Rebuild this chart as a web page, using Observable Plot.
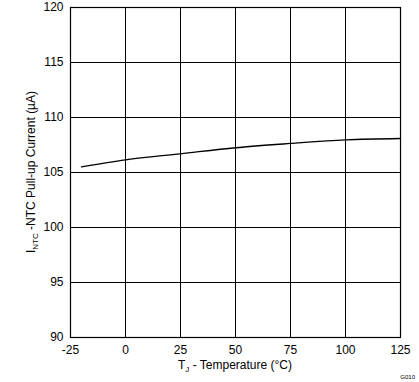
<!DOCTYPE html>
<html><head><meta charset="utf-8">
<script src="https://cdn.jsdelivr.net/npm/d3@7"></script>
<script src="https://cdn.jsdelivr.net/npm/@observablehq/plot@0.6"></script>
<style>body{margin:0;background:#fff}svg{font-family:"Liberation Sans",Arial,sans-serif}</style>
</head><body><div id="chart"></div>
<script>
const temps = [-20, 0, 25, 50, 75, 100, 125];
const currents = [105.52, 106.15, 106.7, 107.25, 107.64, 107.97, 108.09];
const xTicks = [-25, 0, 25, 50, 75, 100, 125];
const yTicks = [90, 95, 100, 105, 110, 115, 120];
const data = temps.map((t, i) => ({t, c: currents[i]}));

const plot = Plot.plot({
  width: 419, height: 382,
  marginLeft: 70, marginRight: 19, marginTop: 7, marginBottom: 45,
  style: {fontFamily: "Liberation Sans, Arial, sans-serif", fontSize: "12px", color: "#000", background: "#fff"},
  x: {domain: [-25, 125], ticks: xTicks, label: null},
  y: {domain: [90, 120], ticks: yTicks, label: null},
  marks: [
    Plot.ruleX(xTicks, {stroke: "#000", strokeWidth: 1}),
    Plot.ruleY(yTicks, {stroke: "#000", strokeWidth: 1}),
    Plot.frame({stroke: "#000", strokeWidth: 1.2}),
    Plot.axisX({ticks: xTicks, tickSize: 0, tickPadding: 8, fontSize: 12, label: null, tickFormat: d => String(d)}),
    Plot.axisY({ticks: yTicks, tickSize: 0, tickPadding: 7, fontSize: 12, label: null, tickFormat: d => String(d)}),
    Plot.line(data, {x: "t", y: "c", stroke: "#000", strokeWidth: 1.3, curve: "monotone-x"})
  ]
});
document.getElementById("chart").appendChild(plot);
const svg = d3.select(plot);
// x axis label with subscript
const xl = svg.append("text").attr("x", 235).attr("y", 369).attr("text-anchor", "middle")
  .attr("font-size", 12).attr("fill", "#000");
xl.append("tspan").text("T");
xl.append("tspan").attr("font-size", 8).attr("dy", 3).text("J");
xl.append("tspan").attr("dy", -3).text(" - Temperature (°C)");
// y axis label with subscript
const yl = svg.append("text").attr("transform", "translate(35,172) rotate(-90)").attr("text-anchor", "middle")
  .attr("font-size", 12).attr("fill", "#000");
yl.append("tspan").text("I");
yl.append("tspan").attr("font-size", 8).attr("dy", 3).text("NTC");
yl.append("tspan").attr("dy", -3).text(" -NTC Pull-up Current (µA)");
svg.append("text").attr("x", 415).attr("y", 379).attr("text-anchor", "end")
  .attr("font-size", 6).attr("fill", "#000").text("G010");
</script></body></html>
